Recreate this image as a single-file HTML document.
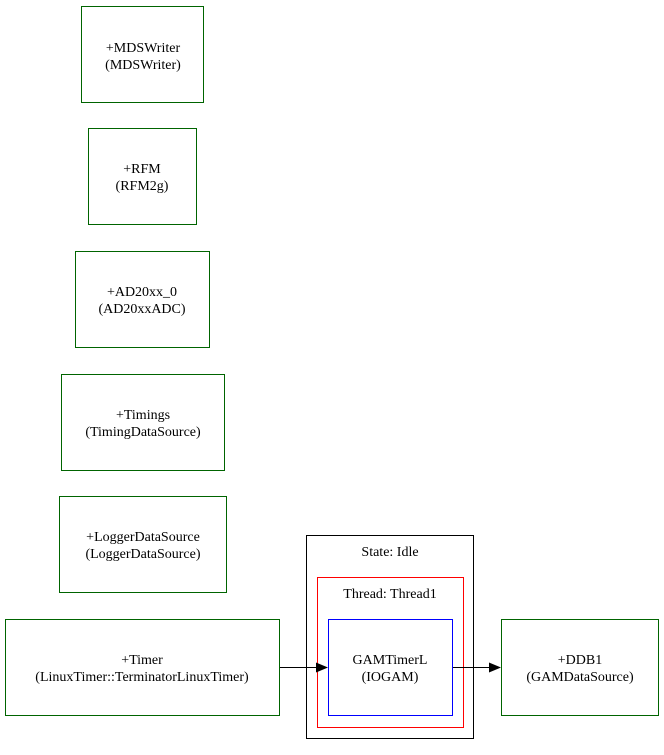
<!DOCTYPE html>
<html><head><meta charset="utf-8"><style>
html,body{margin:0;padding:0;background:#fff;}
svg{display:block;}
</style></head><body>
<svg width="664" height="755" viewBox="0 0 664 755" xmlns="http://www.w3.org/2000/svg">
<g fill="none" stroke="#006400" stroke-width="1">
<rect x="81.5" y="6.5" width="122" height="96"/>
<rect x="88.5" y="128.5" width="108" height="96"/>
<rect x="75.5" y="251.5" width="134" height="96"/>
<rect x="61.5" y="374.5" width="163" height="96"/>
<rect x="59.5" y="496.5" width="167" height="96"/>
<rect x="5.5" y="619.5" width="274" height="96"/>
<rect x="501.5" y="619.5" width="157" height="96"/>
</g>
<rect x="306.5" y="535.5" width="167" height="203" fill="none" stroke="#000"/>
<rect x="317.5" y="577.5" width="146" height="150" fill="none" stroke="#ff0000"/>
<rect x="328.5" y="619.5" width="124" height="96" fill="none" stroke="#0000ff"/>
<g font-family="'Liberation Serif','DejaVu Serif','Times New Roman',serif" font-size="14" text-anchor="middle" fill="#000">
<text x="143" y="52">+MDSWriter</text><text x="143" y="69">(MDSWriter)</text>
<text x="142" y="173">+RFM</text><text x="142" y="190">(RFM2g)</text>
<text x="142" y="296">+AD20xx_0</text><text x="142" y="313">(AD20xxADC)</text>
<text x="143" y="419">+Timings</text><text x="143" y="436">(TimingDataSource)</text>
<text x="143" y="541">+LoggerDataSource</text><text x="143" y="558">(LoggerDataSource)</text>
<text x="142" y="664">+Timer</text><text x="142" y="681">(LinuxTimer::TerminatorLinuxTimer)</text>
<text x="580" y="664">+DDB1</text><text x="580" y="681">(GAMDataSource)</text>
<text x="390" y="556">State: Idle</text>
<text x="390" y="598">Thread: Thread1</text>
<text x="390" y="664">GAMTimerL</text><text x="390" y="681">(IOGAM)</text>
</g>
<g stroke="#000" stroke-width="1">
<line x1="280" y1="667.5" x2="316" y2="667.5"/>
<line x1="453" y1="667.5" x2="489" y2="667.5"/>
</g>
<polygon points="316,662.5 328,667.5 316,672.5" fill="#000"/>
<polygon points="489,662.5 501,667.5 489,672.5" fill="#000"/>
</svg>
</body></html>
